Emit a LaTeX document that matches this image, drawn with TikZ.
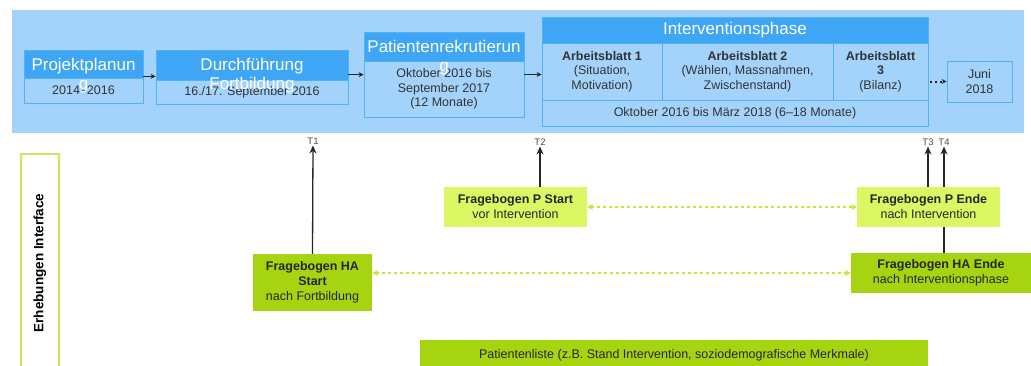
\documentclass[tikz,border=0pt]{standalone}
\usepackage{fontspec}
\setmainfont{Liberation Sans}
\definecolor{bgblue}{RGB}{163, 211, 251}
\definecolor{headblue}{RGB}{62, 166, 245}
\definecolor{lineblue}{RGB}{82, 178, 246}
\definecolor{hagreen}{RGB}{166, 212, 16}
\definecolor{pgreen}{RGB}{220, 247, 100}
\definecolor{dashgreen}{RGB}{196, 232, 56}
\definecolor{framegreen}{RGB}{204, 232, 90}
\usepackage{tikz}
\usetikzlibrary{arrows.meta, positioning, calc}

\begin{document}
\begin{tikzpicture}[x=1pt, y=-1pt,
  head/.style={fill=headblue, draw=lineblue, line width=0.8pt, inner sep=0pt, text=white, font=\fontsize{17}{19}\selectfont},
  headtext/.style={text=white, font=\fontsize{17}{19}\selectfont, align=center, inner sep=0pt, anchor=north},
  phase/.style={fill=bgblue, draw=lineblue, line width=0.8pt, inner sep=0pt, text=black!80, align=center, font=\fontsize{12.5}{14.5}\selectfont},
  survey/.style={inner sep=0pt, text=black!85, align=center, font=\fontsize{12.5}{15}\selectfont},
  tlabel/.style={inner sep=1pt, text=black!70, font=\fontsize{9.5}{10}\selectfont},
  step arrow/.style={-{Stealth[length=5pt, width=5pt]}, line width=1.3pt, black!85},
  time arrow/.style={-{Stealth[length=8pt, width=7pt]}, line width=1.3pt, black!85},
  link/.style={{Stealth[length=6pt, width=6pt]}-{Stealth[length=6pt, width=6pt]}, dashgreen, dashed, line width=1.4pt}]
  \useasboundingbox (0,0) rectangle (1031,365);
  \clip (0,0) rectangle (1031,365);

  % Background
  \node[fill=bgblue, minimum width=1012, minimum height=123, inner sep=0pt] (bg) at (518,71.5) {};

  % Projektplanung
  \node[head, minimum width=119, minimum height=28] (pph) at (83.5,64) {};
  \node[phase, minimum width=119, minimum height=25] (ppb) at (83.5,90.5) {2014--2016};
  \node[headtext] (ppt) at ([yshift=-8pt]pph.north) {Projektplanun\\g};

  % Durchfuehrung Fortbildung
  \node[head, minimum width=192, minimum height=30] (dfh) at (252,65) {};
  \node[phase, minimum width=192, minimum height=24] (dfb) at (252,92) {16./17. September 2016};
  \node[headtext] (dft) at ([yshift=-8pt]dfh.north) {Durchführung\\Fortbildung};

  % Patientenrekrutierung
  \node[head, minimum width=160, minimum height=29] (prh) at (444,46.5) {};
  \node[phase, minimum width=160, minimum height=56] (prb) at (444,89) {Oktober 2016 bis\\September 2017\\(12 Monate)};
  \node[headtext] (prt) at ([yshift=-8pt]prh.north) {Patientenrekrutierun\\g};

  % Interventionsphase
  \node[head, minimum width=386, minimum height=26] (ivh) at (735,30) {Interventionsphase};
  \node[phase, minimum width=120, minimum height=57] (ab1) at (602,71.5) {\textbf{Arbeitsblatt 1}\\(Situation,\\Motivation)};
  \node[phase, minimum width=171, minimum height=57] (ab2) at (747.5,71.5) {\textbf{Arbeitsblatt 2}\\(Wählen, Massnahmen,\\Zwischenstand)};
  \node[phase, minimum width=95, minimum height=57] (ab3) at (880.5,71.5) {\textbf{Arbeitsblatt}\\\textbf{3}\\(Bilanz)};
  \node[phase, minimum width=386, minimum height=26] (ivb) at (735,113) {Oktober 2016 bis März 2018 (6--18 Monate)};

  % Ende
  \node[phase, minimum width=65, minimum height=41] (juni) at (979.5,81.5) {Juni\\2018};

  % Arrows
  \draw[step arrow] ([yshift=2pt]pph.south east) -- ([yshift=4pt]dfh.south west);
  \draw[step arrow] ([yshift=5pt]dfb.north east) -- ([yshift=5pt]dfb.north east -| prb.west);
  \draw[step arrow] ([yshift=-3pt]prb.east |- ab1.west) -- ([yshift=-3pt]ab1.west);
  \draw[step arrow, line width=2pt, dash pattern=on 2pt off 3pt] ([xshift=2pt]ab3.east |- juni.west) -- (juni.west);

  % Erhebungen
  \node[draw=framegreen, fill=white, line width=1.5pt, rotate=90, minimum width=218, minimum height=38, inner sep=0pt, font=\fontsize{13.5}{15}\selectfont\bfseries] (erh) at (40,263) {Erhebungen Interface};

  % Messzeitpunkte
  \node[tlabel] (t1) at (313,141) {T1};
  \node[tlabel] (t2) at (540,142) {T2};
  \node[tlabel] (t3) at (928,142) {T3};
  \node[tlabel] (t4) at (944,142) {T4};

  % Frageboegen
  \node[survey, fill=hagreen, minimum width=119, minimum height=57] (has) at (312.5,282.5) {\textbf{Fragebogen HA}\\\textbf{Start}\\nach Fortbildung};
  \node[survey, fill=pgreen, minimum width=143, minimum height=40] (ps) at (515.5,207) {\textbf{Fragebogen P Start}\\vor Intervention};
  \node[survey, fill=pgreen, minimum width=143, minimum height=40] (pe) at (928.5,207) {\textbf{Fragebogen P Ende}\\nach Intervention};
  \node[survey, fill=hagreen, minimum width=180, minimum height=40] (hae) at (941,273) {\textbf{Fragebogen HA Ende}\\nach Interventionsphase};
  \node[survey, fill=hagreen, minimum width=508, minimum height=30] (pl) at (674,355) {Patientenliste (z.B. Stand Intervention, soziodemografische Merkmale)};

  \draw[time arrow] (has.north) -- (t1.south);
  \draw[time arrow] (ps.north -| t2.south) -- (t2.south);
  \draw[time arrow] (pe.north -| t3.south) -- (t3.south);
  \draw[time arrow] (pe.north -| t4.south) -- (t4.south);
  \draw[line width=1.3pt, black!85] (pe.south -| t4.south) -- (hae.north -| t4.south);

  \draw[link] (ps.east) -- (pe.west);
  \draw[link] (has.east |- hae.west) -- (hae.west);
\end{tikzpicture}
\end{document}
